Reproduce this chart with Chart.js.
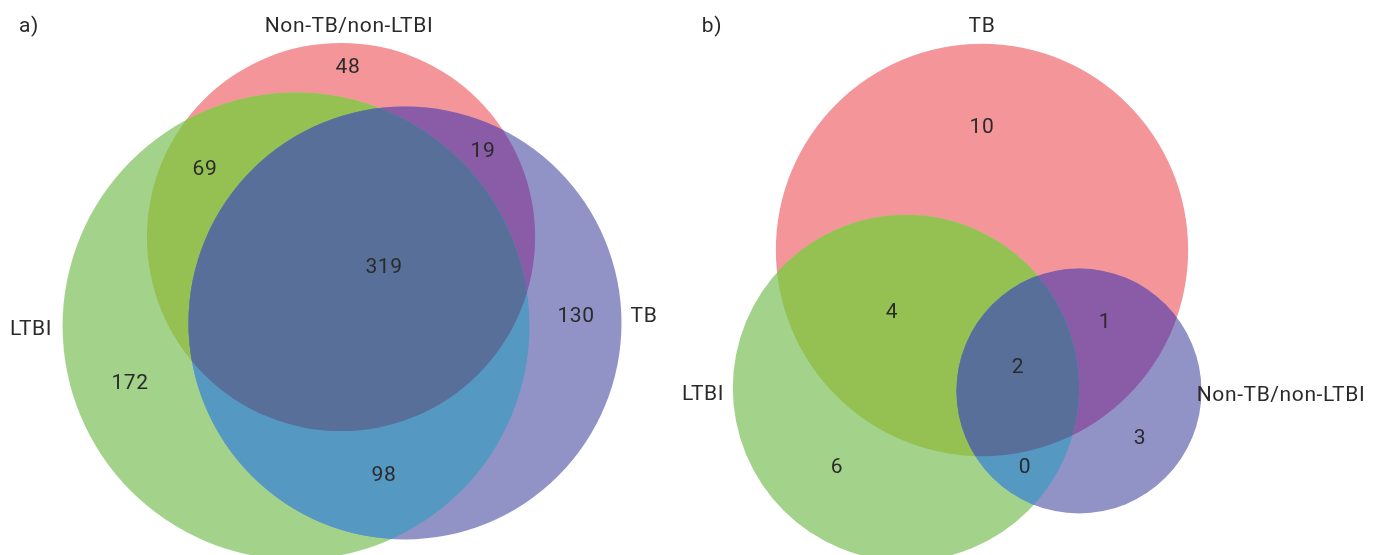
<!DOCTYPE html>
<html>
<head>
<meta charset="utf-8">
<script src="https://cdn.jsdelivr.net/npm/chart.js@4/dist/chart.umd.min.js"></script>
<style>
  html, body { margin: 0; padding: 0; background: #ffffff; }
  #wrap { width: 1393px; height: 555px; position: relative; }
</style>
</head>
<body>
<div id="wrap"><canvas id="venn" width="1393" height="555"></canvas></div>
<script>
// Panel captions
const panelTitles = ['a)', 'b)'];

// Set names for each panel (order: first, second, third set)
const setNamesA = ['Non-TB/non-LTBI', 'LTBI', 'TB'];
const setNamesB = ['TB', 'LTBI', 'Non-TB/non-LTBI'];

// Region membership masks: 1 = first set, 2 = second, 4 = third
const regionMasks = [1, 2, 4, 3, 5, 6, 7];

// Patient counts per region, in the order of regionMasks
const countsA = [48, 172, 130, 69, 19, 98, 319];
const countsB = [10, 6, 3, 4, 1, 0, 2];

// Fill colours: single sets, pairwise overlaps, triple overlap
const setColors = ['#f4959a', '#a3d38b', '#9193c7'];
const pairColors = { 3: '#95c153', 5: '#8a5ba6', 6: '#5598c2' };
const tripleColor = '#587099';

// Size of each set = sum of the regions it contains
function setTotals(counts) {
  return [1, 2, 4].map(bit =>
    counts.reduce((s, v, i) => s + ((regionMasks[i] & bit) ? v : 0), 0));
}

// Layout for each panel: circle centres (axis units), radius scale per sqrt(count),
// and anchor positions for set names and region counts
const panels = [
  {
    title: panelTitles[0], titlePos: [29, 27],
    names: setNamesA, counts: countsA, k: 9.1,
    centers: [[341, 237], [296, 326], [405, 323]],
    namePos: [[349, 27], [31, 330], [644, 317]],
    countPos: [[348, 68], [130, 384], [576, 317], [205, 170], [483, 152], [384, 476], [384, 268]]
  },
  {
    title: panelTitles[1], titlePos: [712, 27],
    names: setNamesB, counts: countsB, k: 50,
    centers: [[982, 250], [906, 388], [1079, 391]],
    namePos: [[982, 27], [703, 395], [1281, 396]],
    countPos: [[982, 128], [837, 468], [1140, 439], [892, 313], [1105, 323], [1025, 468], [1018, 368]]
  }
];

const FONT = '21px Roboto, "DejaVu Sans Condensed", sans-serif';
const TEXT = '#2a2a2a';

// Circles in axis units; radius derived from set size
function circlesOf(p) {
  const totals = setTotals(p.counts);
  return p.centers.map((c, i) => ({ x: c[0], y: c[1], r: p.k * Math.sqrt(totals[i]) }));
}

const vennPlugin = {
  id: 'vennCircles',
  beforeDatasetsDraw(chart) {
    const ctx = chart.ctx;
    const xs = chart.scales.x, ys = chart.scales.y;
    const toPx = c => ({
      x: xs.getPixelForValue(c.x),
      y: ys.getPixelForValue(c.y),
      r: Math.abs(xs.getPixelForValue(c.x + c.r) - xs.getPixelForValue(c.x))
    });
    const path = c => { ctx.beginPath(); ctx.arc(c.x, c.y, c.r, 0, Math.PI * 2); };
    panels.forEach(p => {
      const cs = circlesOf(p).map(toPx);
      // single sets
      cs.forEach((c, i) => { path(c); ctx.fillStyle = setColors[i]; ctx.fill(); });
      // pairwise overlaps
      [[0, 1, 3], [0, 2, 5], [1, 2, 6]].forEach(([a, b, m]) => {
        ctx.save(); path(cs[a]); ctx.clip();
        path(cs[b]); ctx.fillStyle = pairColors[m]; ctx.fill();
        ctx.restore();
      });
      // triple overlap
      ctx.save();
      path(cs[0]); ctx.clip();
      path(cs[1]); ctx.clip();
      path(cs[2]); ctx.fillStyle = tripleColor; ctx.fill();
      ctx.restore();
    });
  },
  afterDatasetsDraw(chart) {
    const ctx = chart.ctx;
    ctx.save();
    ctx.font = FONT;
    ctx.fillStyle = TEXT;
    ctx.textAlign = 'center';
    ctx.textBaseline = 'middle';
    if ('letterSpacing' in ctx) ctx.letterSpacing = '0.6px';
    chart.data.datasets.forEach((ds, di) => {
      const meta = chart.getDatasetMeta(di);
      meta.data.forEach((el, i) => {
        ctx.fillText(ds.labels[i], el.x, el.y);
      });
    });
    ctx.restore();
  }
};

// Text anchors as scatter points (invisible markers, text drawn by the plugin)
const datasets = [];
panels.forEach(p => {
  datasets.push({
    labels: [p.title],
    data: [{ x: p.titlePos[0], y: p.titlePos[1] }]
  });
  datasets.push({
    labels: p.names,
    data: p.namePos.map(q => ({ x: q[0], y: q[1] }))
  });
  datasets.push({
    labels: p.counts.map(String),
    data: p.countPos.map(q => ({ x: q[0], y: q[1] }))
  });
});

new Chart(document.getElementById('venn'), {
  type: 'scatter',
  data: { datasets },
  options: {
    responsive: false,
    animation: false,
    events: [],
    layout: { padding: 0 },
    elements: { point: { radius: 0, hoverRadius: 0 } },
    plugins: { legend: { display: false }, tooltip: { enabled: false } },
    scales: {
      x: { type: 'linear', min: 0, max: 1393, display: false },
      y: { type: 'linear', min: 0, max: 555, reverse: true, display: false }
    }
  },
  plugins: [vennPlugin]
});
</script>
</body>
</html>
